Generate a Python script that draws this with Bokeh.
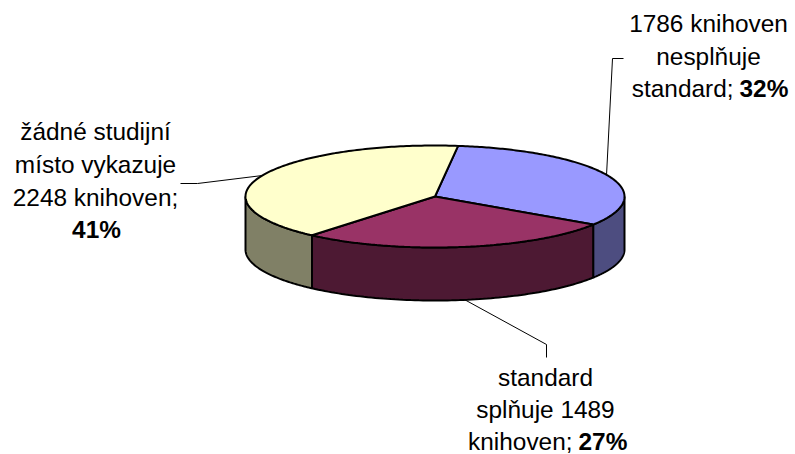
import numpy as np
from bokeh.plotting import figure
from bokeh.models import Range1d
from bokeh.core.properties import value
from bokeh.embed import file_html
from bokeh.resources import INLINE

# --- data ---
categories = ["nesplňuje standard", "splňuje standard", "žádné studijní místo"]
counts = [1786, 1489, 2248]
top_colors = ["#9999FF", "#993366", "#FFFFCC"]
side_colors = ["#4D4D80", "#4D1933", "#808066"]

# --- pie geometry (screen pixels) ---
CX, CY, RX, RY, DEPTH = 434.5, 196.0, 189.5, 51.0, 53.0
START_DEG = 83.0

W, H = 795, 454
p = figure(width=W, height=H, output_backend="svg", toolbar_location=None,
           x_range=Range1d(0, W), y_range=Range1d(H, 0),
           min_border=0, outline_line_color=None, background_fill_color="white")
p.axis.visible = False
p.grid.visible = False

# leader lines (under the pie)
leaders = [
    ([180, 197, 262], [183, 183, 175]),
    ([623, 612, 606], [58, 58, 175]),
    ([462, 546, 546], [298, 344, 357]),
]
for lx, ly in leaders:
    p.line(lx, ly, line_color="#000000", line_width=1)

vals = np.array(counts, dtype=float)
sweeps = vals / vals.sum() * 360.0
bounds = START_DEG - np.concatenate([[0], np.cumsum(sweeps)])


def ex(t):
    return CX + RX * np.cos(np.radians(t))


def ey(t):
    return CY - RY * np.sin(np.radians(t))


# side walls: only the front half of the rim (angles -180..0) is visible
for i in range(len(vals)):
    hi = min(bounds[i], 0.0)
    lo = max(bounds[i + 1], -180.0)
    if hi <= lo:
        continue
    t = np.linspace(hi, lo, 80)
    xs = np.concatenate([ex(t), ex(t[::-1])])
    ys = np.concatenate([ey(t), ey(t[::-1]) + DEPTH])
    p.patch(xs, ys, fill_color=side_colors[i], line_color="#000000", line_width=2)

# top wedges
for i in range(len(vals)):
    t = np.linspace(bounds[i], bounds[i + 1], 160)
    xs = np.concatenate([[CX], ex(t)])
    ys = np.concatenate([[CY], ey(t)])
    p.patch(xs, ys, fill_color=top_colors[i], line_color="#000000", line_width=2)

FONT = value("Liberation Sans")
SIZE = value("24.4px")
TEXT_SHIFT = 9


def label(x, y, s, align="center", bold=False):
    p.text([x], [y - TEXT_SHIFT], text=[s], text_align=align, text_baseline="alphabetic",
           text_font=FONT, text_font_size=SIZE, text_color="#000000",
           text_font_style="bold" if bold else "normal")


label(708, 32, "1786 knihoven")
label(708, 65, "nesplňuje")
label(733, 97, "standard;", align="right")
label(739, 97, "32%", align="left", bold=True)

label(95, 140, "žádné studijní")
label(95, 173, "místo vykazuje")
label(95, 206, "2248 knihoven;")
label(96, 238, "41%", bold=True)

label(545, 386, "standard")
label(545, 418, "splňuje 1489")
label(572, 450, "knihoven;", align="right")
label(578, 450, "27%", align="left", bold=True)

open("out.html", "w").write(file_html(p, INLINE))
